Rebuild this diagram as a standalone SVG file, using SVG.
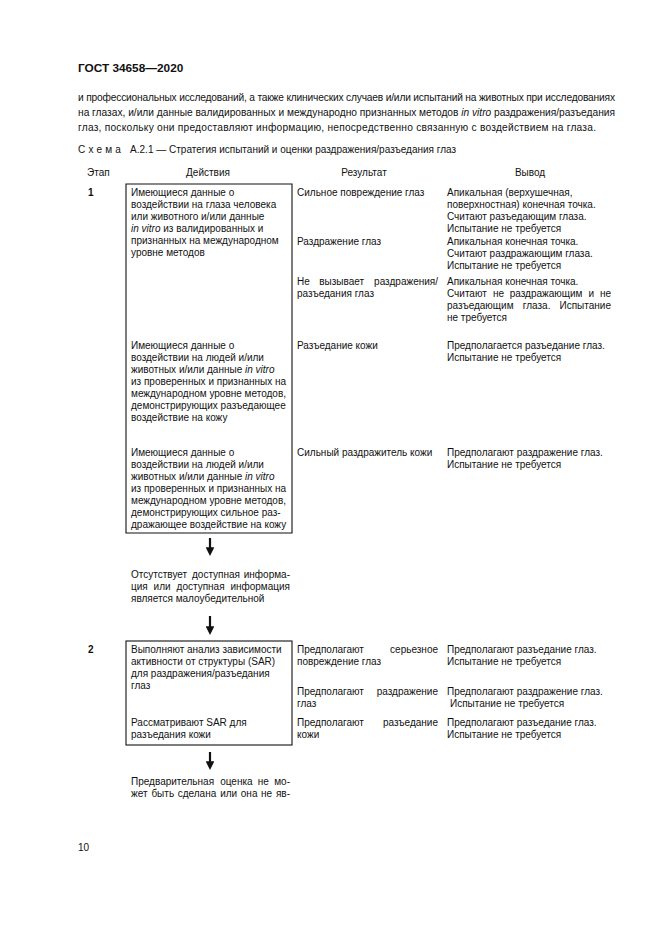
<svg xmlns="http://www.w3.org/2000/svg" width="661" height="935" viewBox="0 0 661 935">
<style>
text{font-family:"Liberation Sans",Arial,sans-serif;fill:#111;}
.t{font-size:10px;}
.p{font-size:10.2px;}
.b{font-weight:bold;}
.i{font-style:italic;}
.e{text-anchor:end;}
.m{text-anchor:middle;}
.box{fill:none;stroke:#111;stroke-width:1.1;}
.arr{stroke:#111;stroke-width:2.2;fill:none;}
</style>
<defs>
<marker id="ah" viewBox="0 0 10 10" refX="2" refY="5" markerWidth="4" markerHeight="4" orient="auto" markerUnits="strokeWidth">
<path d="M0,0 L10,5 L0,10 Z" fill="#111"/>
</marker>
</defs>
<rect width="661" height="935" fill="#fff"/>

<g id="header">
<text x="78" y="72" class="b" font-size="11.8">ГОСТ 34658—2020</text>
<text x="78" y="101" class="p" textLength="537" lengthAdjust="spacing">и профессиональных исследований, а также клинических случаев и/или испытаний на животных при исследованиях</text>
<text x="78" y="116" class="p" textLength="537" lengthAdjust="spacing">на глазах, и/или данные валидированных и международно признанных методов <tspan class="i">in vitro</tspan> раздражения/разъедания</text>
<text x="78" y="131" class="p" textLength="518" lengthAdjust="spacing">глаз, поскольку они предоставляют информацию, непосредственно связанную с воздействием на глаза.</text>
<text x="78" y="153" font-size="10"><tspan letter-spacing="3.2">Схема</tspan><tspan dx="6">А.2.1 — Стратегия испытаний и оценки раздражения/разъедания глаз</tspan></text>
</g>

<g id="column-headers" class="t">
<text x="87" y="176">Этап</text>
<text x="208" y="176" class="m">Действия</text>
<text x="364" y="176" class="m">Результат</text>
<text x="530" y="176" class="m">Вывод</text>
</g>

<g id="stage-1"><text x="88" y="196" class="t b">1</text></g>
<g id="stage-2"><text x="88" y="653" class="t b">2</text></g>

<g id="box-1">
<path class="box" d="M126,184 H292 V533 H126 Z"/>
<g class="t">
<text x="131" y="196">Имеющиеся данные о</text>
<text x="131" y="208">воздействии на глаза человека</text>
<text x="131" y="220">или животного и/или данные</text>
<text x="131" y="232"><tspan class="i">in vitro</tspan> из валидированных и</text>
<text x="131" y="244">признанных на международном</text>
<text x="131" y="256">уровне методов</text>

<text x="131" y="349">Имеющиеся данные о</text>
<text x="131" y="361">воздействии на людей и/или</text>
<text x="131" y="373">животных и/или данные <tspan class="i">in vitro</tspan></text>
<text x="131" y="385">из проверенных и признанных на</text>
<text x="131" y="397">международном уровне методов,</text>
<text x="131" y="409">демонстрирующих разъедающее</text>
<text x="131" y="421">воздействие на кожу</text>

<text x="131" y="456">Имеющиеся данные о</text>
<text x="131" y="468">воздействии на людей и/или</text>
<text x="131" y="480">животных и/или данные <tspan class="i">in vitro</tspan></text>
<text x="131" y="492">из проверенных и признанных на</text>
<text x="131" y="504">международном уровне методов,</text>
<text x="131" y="516">демонстрирующих сильное раз-</text>
<text x="131" y="528">дражающее воздействие на кожу</text>
</g>
</g>

<g id="results-1" class="t">
<text x="297" y="196">Сильное повреждение глаз</text>
<text x="447" y="196">Апикальная (верхушечная,</text>
<text x="447" y="208">поверхностная) конечная точка.</text>
<text x="447" y="220">Считают разъедающим глаза.</text>
<text x="447" y="232">Испытание не требуется</text>

<text x="297" y="245">Раздражение глаз</text>
<text x="447" y="245">Апикальная конечная точка.</text>
<text x="447" y="257">Считают раздражающим глаза.</text>
<text x="447" y="269">Испытание не требуется</text>

<text y="285"><tspan x="297">Не</tspan> <tspan x="319.2">вызывает</tspan></text>
<text x="438" y="285" class="e">раздражения/</text>
<text x="297" y="297">разъедания глаз</text>
<text x="447" y="285">Апикальная конечная точка.</text>
<text y="297"><tspan x="447">Считают</tspan> <tspan x="492.9">не</tspan> <tspan x="509.7">раздражающим</tspan> <tspan x="588.5">и</tspan></text>
<text x="611" y="297" class="e">не</text>
<text y="309"><tspan x="447">разъедающим</tspan> <tspan x="522.8">глаза.</tspan></text>
<text x="611" y="309" class="e">Испытание</text>
<text x="447" y="321">не требуется</text>

<text x="297" y="349">Разъедание кожи</text>
<text x="447" y="349">Предполагается разъедание глаз.</text>
<text x="447" y="361">Испытание не требуется</text>

<text x="297" y="456">Сильный раздражитель кожи</text>
<text x="447" y="456">Предполагают раздражение глаз.</text>
<text x="447" y="468">Испытание не требуется</text>
</g>

<g id="note-1" class="t">
<text y="578"><tspan x="131">Отсутствует</tspan> <tspan x="192">доступная</tspan></text>
<text x="290" y="578" class="e">информа-</text>
<text y="590"><tspan x="131">ция</tspan> <tspan x="153.6">или</tspan> <tspan x="176.6">доступная</tspan></text>
<text x="290" y="590" class="e">информация</text>
<text x="131" y="602">является малоубедительной</text>
</g>

<g id="box-2">
<rect class="box" x="126" y="641" width="166" height="104"/>
<g class="t">
<text x="131" y="653">Выполняют анализ зависимости</text>
<text x="131" y="665">активности от структуры (SAR)</text>
<text x="131" y="677">для раздражения/разъедания</text>
<text x="131" y="689">глаз</text>
<text x="131" y="726">Рассматривают SAR для</text>
<text x="131" y="738">разъедания кожи</text>
</g>
</g>

<g id="results-2" class="t">
<text x="297" y="653">Предполагают</text>
<text x="438" y="653" class="e">серьезное</text>
<text x="297" y="665">повреждение глаз</text>
<text x="447" y="653">Предполагают разъедание глаз.</text>
<text x="447" y="665">Испытание не требуется</text>

<text x="297" y="695">Предполагают</text>
<text x="438" y="695" class="e">раздражение</text>
<text x="297" y="707">глаз</text>
<text x="447" y="695">Предполагают раздражение глаз.</text>
<text x="450" y="707">Испытание не требуется</text>

<text x="297" y="726">Предполагают</text>
<text x="438" y="726" class="e">разъедание</text>
<text x="297" y="738">кожи</text>
<text x="447" y="726">Предполагают разъедание глаз.</text>
<text x="447" y="738">Испытание не требуется</text>
</g>

<g id="note-2" class="t">
<text y="785"><tspan x="131">Предварительная</tspan> <tspan x="220.2">оценка</tspan> <tspan x="257.8">не</tspan></text>
<text x="290" y="785" class="e">мо-</text>
<text y="797"><tspan x="131">жет</tspan> <tspan x="151.4">быть</tspan> <tspan x="177.7">сделана</tspan> <tspan x="220.2">или</tspan> <tspan x="240.8">она</tspan> <tspan x="261">не</tspan></text>
<text x="290" y="797" class="e">яв-</text>
</g>

<g id="connectors">
<line class="arr" x1="210" y1="538" x2="210" y2="549" marker-end="url(#ah)"/>
<line class="arr" x1="210" y1="616" x2="210" y2="628" marker-end="url(#ah)"/>
<line class="arr" x1="210" y1="752" x2="210" y2="763" marker-end="url(#ah)"/>
</g>

<g id="footer"><text x="78" y="851" class="t">10</text></g>
</svg>
